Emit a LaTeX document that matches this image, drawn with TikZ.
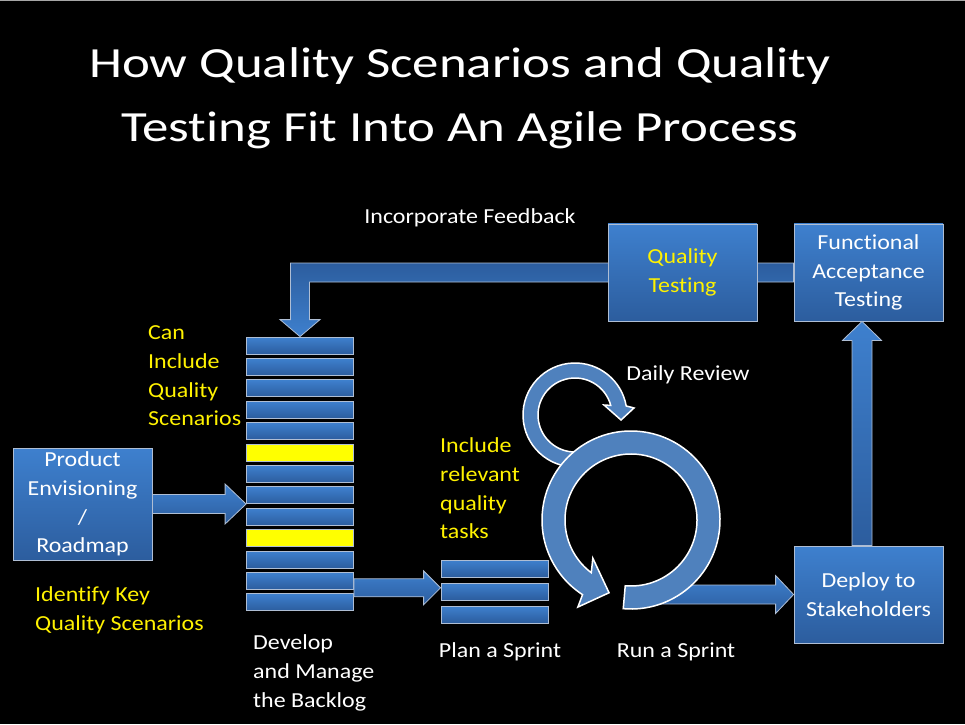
\documentclass[tikz,border=0pt]{standalone}
\usepackage{fontspec}
\setmainfont[FakeStretch=1.12, Ligatures=NoCommon]{Carlito}
\newfontfamily\titlefont[FakeStretch=1.23, Ligatures=NoCommon]{Carlito}
\usetikzlibrary{calc}
\usetikzlibrary{backgrounds}

\definecolor{boxtop}{RGB}{62,128,206}
\definecolor{boxbot}{RGB}{44,93,158}
\definecolor{edgegray}{RGB}{175,190,212}
\definecolor{ringblue}{RGB}{79,129,189}

\newcommand\bodyfont{\fontsize{21.4}{28.7}\selectfont}

\tikzset{x=1pt, y=1pt,
every node/.style={
font=\bodyfont,
text=white,
inner sep=0pt},
box/.style={
draw=edgegray,
line width=0.8pt,
top color=boxtop,
bottom color=boxbot,
minimum width=149pt,
minimum height=97pt,
align=center},
bar/.style={
draw=edgegray,
line width=0.8pt,
top color=boxtop,
bottom color=boxbot,
minimum width=107pt,
minimum height=17pt},
hibar/.style={bar, top color=yellow, bottom color=yellow},
yellowtext/.style={text=yellow, align=left},
whitetext/.style={align=left},
blockarrow/.style={
draw=edgegray,
line width=0.8pt,
top color=boxtop,
bottom color=boxbot},
ring/.style={
fill=ringblue,
draw=white,
line width=1.5pt}}

% flat arrow pointing right: tail, tip, half shaft, half head, head length
\newcommand{\harrow}[5]{%
\path[blockarrow] let \p1=(#1), \p2=(#2) in
(\x1,\y1+#3) -- (\x2-#5,\y1+#3) -- (\x2-#5,\y1+#4) -- (\x2,\y1)
-- (\x2-#5,\y1-#4) -- (\x2-#5,\y1-#3) -- (\x1,\y1-#3) -- cycle;}
% same, pointing up
\newcommand{\varrow}[5]{%
\path[blockarrow] let \p1=(#1), \p2=(#2) in
(\x1-#3,\y1) -- (\x1-#3,\y2-#5) -- (\x1-#4,\y2-#5) -- (\x1,\y2)
-- (\x1+#4,\y2-#5) -- (\x1+#3,\y2-#5) -- (\x1+#3,\y1) -- cycle;}

\begin{document}
\begin{tikzpicture}
\useasboundingbox (0,0) rectangle (965,724);

\node[font=\titlefont\fontsize{43}{64}\selectfont, align=center] (title) at (460,626)
{How Quality Scenarios and Quality\\Testing Fit Into An Agile Process};

% boxes
\node[box, minimum width=139pt, minimum height=112pt] (envision) at (82.5,220) {Product\\Envisioning\\/\\Roadmap};
\node[box, text=yellow] (qtest) at (682.5,451.5) {Quality\\Testing};
\node[box] (fat) at (868.5,451.5) {Functional\\Acceptance\\Testing};
\node[box] (deploy) at (868.5,129.5) {Deploy to\\Stakeholders};

% backlog and sprint bars
\foreach \i/\s in {0/bar,1/bar,2/bar,3/bar,4/bar,5/hibar,6/bar,7/bar,8/bar,9/hibar,10/bar,11/bar,12/bar}
\node[\s] (bl\i) at (300,378.5-21.4*\i) {};
\foreach \i in {0,1,2}
\node[bar] (sp\i) at (494.5,155.5-23*\i) {};

% labels
\node (feedback) at (470,506) {Incorporate Feedback};
\node (daily) at (688,349) {Daily Review};
\node (plan) at (500,72) {Plan a Sprint};
\node (run) at (676,72) {Run a Sprint};
\node[whitetext, anchor=west] (develop) at (253,51) {Develop\\and Manage\\the Backlog};
\node[yellowtext, anchor=west] (canscen) at (148,348) {Can\\Include\\Quality\\Scenarios};
\node[yellowtext, anchor=west] (tasks) at (440,235.5) {Include\\relevant\\quality\\tasks};
\node[yellowtext, anchor=west] (keyscen) at (35,114) {Identify Key\\Quality Scenarios};

\begin{pgfonlayer}{background}
\fill[black] (0,0) rectangle (965,724);
\fill[gray!70] (0,722.5) rectangle (965,724);
% feedback loop back to the backlog
\path[blockarrow, top color=boxbot, bottom color=boxtop] let \p1=(fat.west), \p2=(bl0.north) in
(\x1,\y1+9.5pt) -- (\x2-9.5pt,\y1+9.5pt) -- (\x2-9.5pt,\y2+17pt) -- (\x2-20pt,\y2+17pt)
-- (\x2,\y2) -- (\x2+20pt,\y2+17pt) -- (\x2+9.5pt,\y2+17pt) -- (\x2+9.5pt,\y1-9.5pt)
-- (\x1,\y1-9.5pt) -- cycle;
\end{pgfonlayer}

% arrows
\coordinate (bigc) at (631,204);
\coordinate (smallc) at (575,309);
\coordinate (bltail) at ([yshift=2pt]bl11.south east);
\coordinate (runtail) at ($(bigc |- deploy.west)+(19,0)$);
\coordinate (uptail) at ([xshift=-6.5pt]deploy.north);
\harrow{envision.east}{bl0.west}{9.5pt}{20pt}{21pt}
\harrow{bltail}{sp1.west}{9pt}{17pt}{17pt}
\harrow{runtail}{deploy.west}{9.5pt}{19pt}{18pt}
\varrow{uptail}{fat.south}{10pt}{19.5pt}{19pt}

% daily review loop
\path[ring] ($(smallc)+(272:52)$) arc[start angle=272, end angle=10, radius=52]
-- ($(smallc)+(6.8:59.4)$) -- ($(smallc)+(-6.2:46.3)$) -- ($(smallc)+(19:30.7)$)
-- ($(smallc)+(15:37)$) arc[start angle=15, end angle=272, radius=37] -- cycle;
% sprint cycle
\path[ring] ($(bigc)+(265:89)$) arc[start angle=265, end angle=597, radius=89]
-- ($(bigc)+(238.6:102)$) -- ($(bigc)+(253.2:76)$) -- ($(bigc)+(225:54)$)
-- ($(bigc)+(233:66)$) arc[start angle=593, end angle=265, radius=66] -- cycle;
\end{tikzpicture}
\end{document}
